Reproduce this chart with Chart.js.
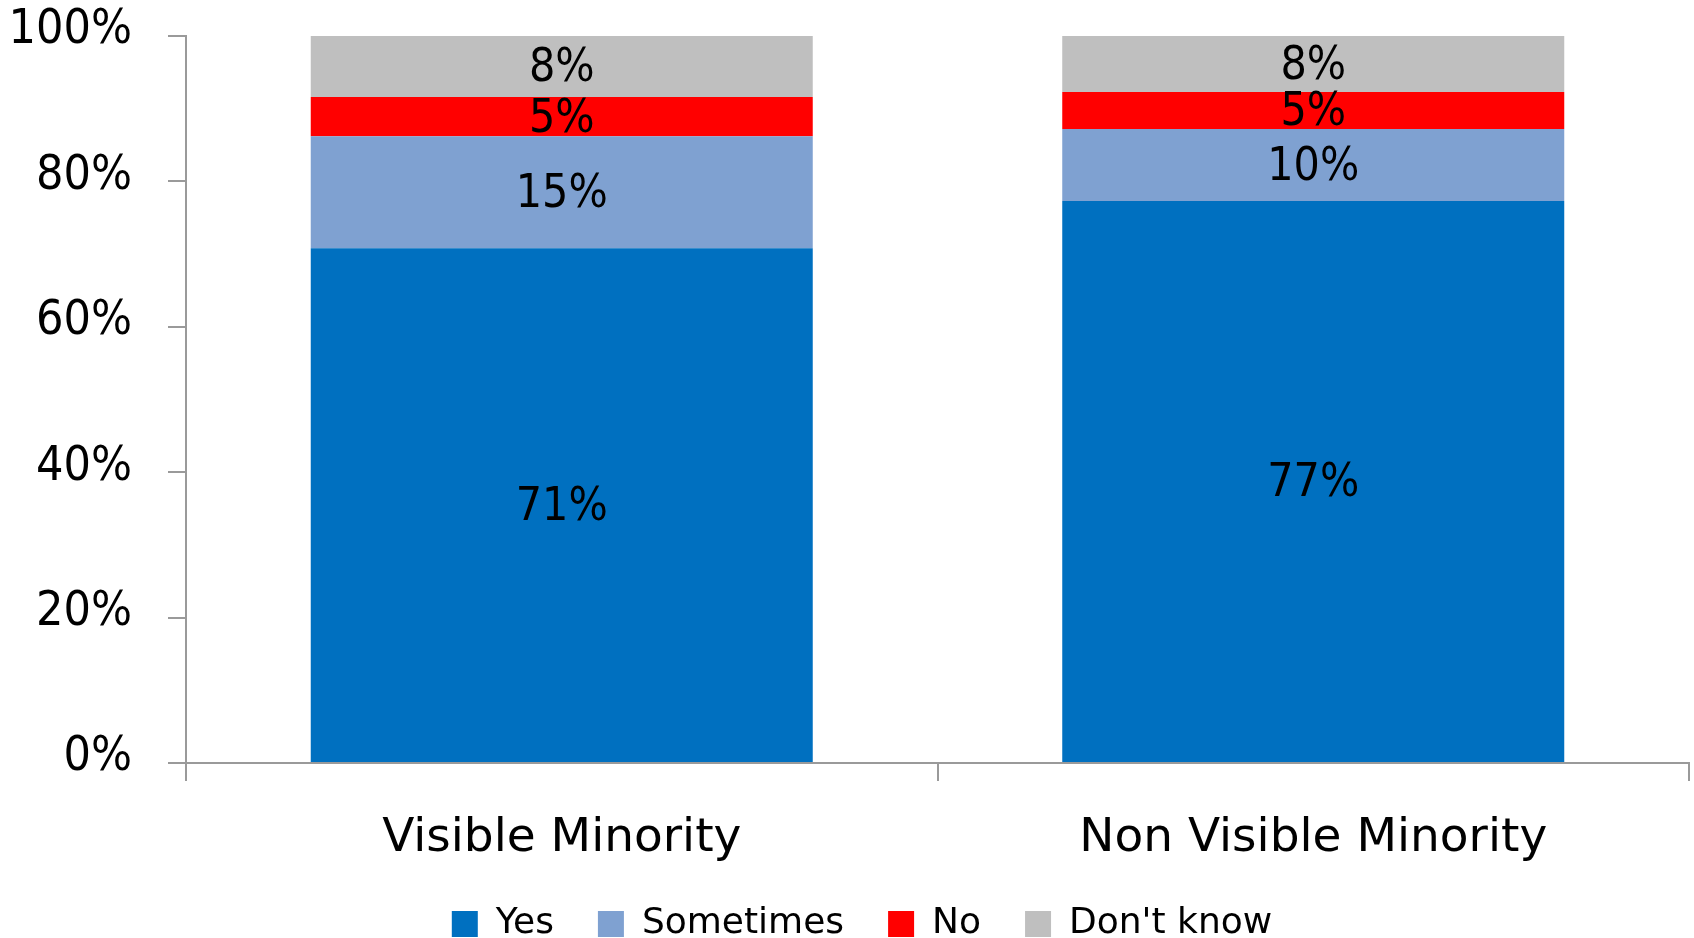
<!DOCTYPE html>
<html>
<head>
<meta charset="utf-8">
<script src="https://cdn.jsdelivr.net/npm/chart.js@4/dist/chart.umd.min.js"></script>
<style>
  html, body { margin: 0; padding: 0; background: #fff; overflow: hidden; }
  #wrap { width: 1694px; height: 952px; position: relative; }
</style>
</head>
<body>
<div id="wrap"><canvas id="chart"></canvas></div>
<script>
const categories = ['Visible Minority', 'Non Visible Minority'];
const yesData = [70.8, 77.3];
const sometimesData = [15.4, 9.9];
const noData = [5.4, 5.1];
const dontKnowData = [8.4, 7.7];
const yTicks = [0, 20, 40, 60, 80, 100];

const axisGray = '#9a9a9a';

// draws the rounded percentage in the middle of each segment
const segmentLabels = {
    id: 'segmentLabels',
    afterDatasetsDraw(chart) {
        const ctx = chart.ctx;
        ctx.save();
        ctx.font = '46px "DejaVu Sans Condensed"';
        ctx.fillStyle = '#000';
        ctx.textAlign = 'center';
        ctx.textBaseline = 'middle';
        chart.data.datasets.forEach((ds, i) => {
            chart.getDatasetMeta(i).data.forEach((bar, j) => {
                const y = (bar.y + bar.base) / 2 + 3;
                ctx.fillText(Math.round(ds.data[j]) + '%', bar.x, y);
            });
        });
        ctx.restore();
    }
};

// legend sits a little right of the canvas centre in the original
const legendShift = {
    id: 'legendShift',
    afterLayout(chart) {
        if (chart.legend) {
            chart.legend.left += 12;
            chart.legend.right += 12;
        }
    }
};

new Chart(document.getElementById('chart').getContext('2d'), {
    type: 'bar',
    data: {
        labels: categories,
        datasets: [
            { label: 'Yes', data: yesData, backgroundColor: '#0070C0' },
            { label: 'Sometimes', data: sometimesData, backgroundColor: '#7FA1D1' },
            { label: 'No', data: noData, backgroundColor: '#FF0000' },
            { label: "Don't know", data: dontKnowData, backgroundColor: '#BFBFBF' }
        ]
    },
    options: {
        responsive: true,
        maintainAspectRatio: false,
        animation: false,
        layout: { padding: { left: 11, right: 5, top: 36, bottom: 0 } },
        datasets: { bar: { barPercentage: 1, categoryPercentage: 0.668 } },
        plugins: {
            legend: {
                position: 'bottom',
                labels: {
                    boxWidth: 26,
                    boxHeight: 26,
                    padding: 44,
                    color: '#000',
                    font: { family: 'DejaVu Sans', size: 36 }
                }
            },
            tooltip: { enabled: false }
        },
        scales: {
            x: {
                stacked: true,
                afterFit(axis) { axis.height = 99; },
                grid: { display: true, drawOnChartArea: false, tickLength: 18, color: axisGray, lineWidth: 2 },
                border: { color: axisGray, width: 2 },
                ticks: { color: '#000', padding: 30, font: { family: 'DejaVu Sans', size: 47 } }
            },
            y: {
                stacked: true,
                min: 0,
                max: 100,
                afterBuildTicks(axis) { axis.ticks = yTicks.map(v => ({ value: v })); },
                afterFit(axis) {
                    axis.width = 175;
                    axis.paddingTop = 0;
                    axis.paddingBottom = 0;
                },
                grid: { display: true, drawOnChartArea: false, tickLength: 18, color: axisGray, lineWidth: 2 },
                border: { color: axisGray, width: 2 },
                ticks: {
                    color: '#000',
                    padding: 36,
                    labelOffset: -5,
                    font: { family: 'DejaVu Sans Condensed', size: 48 },
                    callback: v => v + '%'
                }
            }
        }
    },
    plugins: [segmentLabels, legendShift]
});
</script>
</body>
</html>
